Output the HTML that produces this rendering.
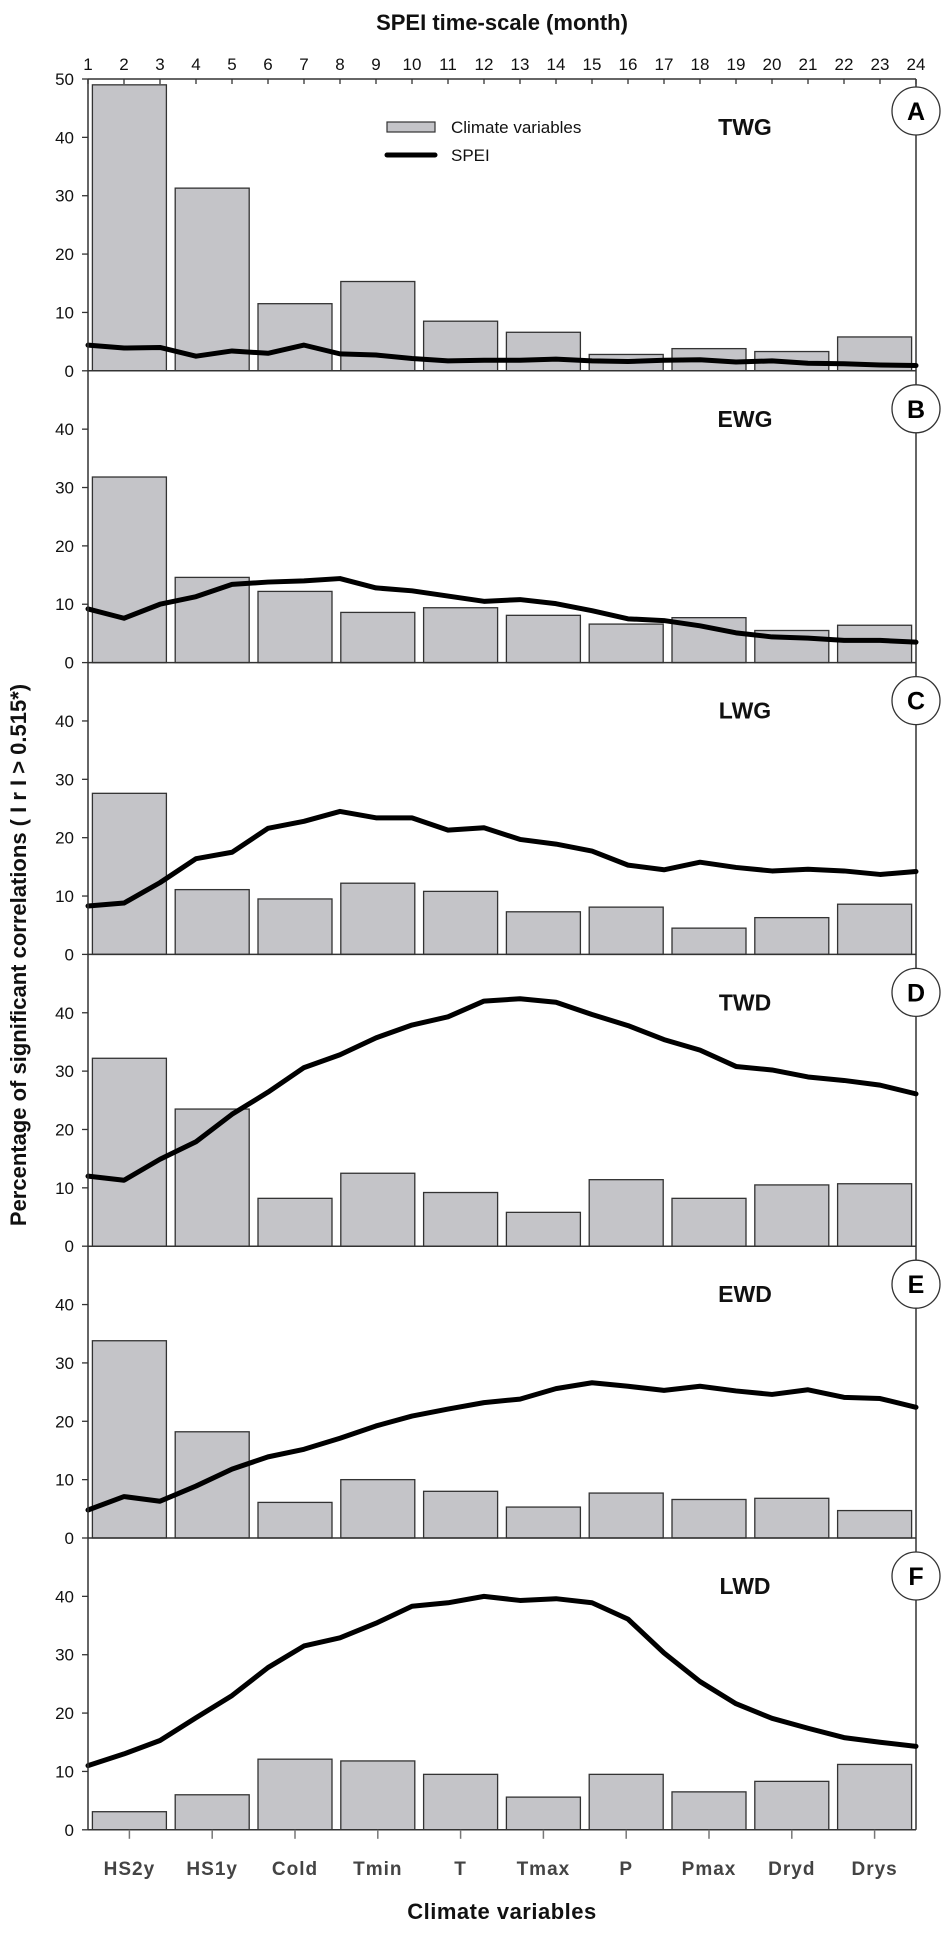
<!DOCTYPE html>
<html><head><meta charset="utf-8"><style>
body{margin:0;background:#fff}
svg text{font-family:"Liberation Sans",Arial,sans-serif}
</style></head><body>
<svg id="chart" width="950" height="1928" viewBox="0 0 950 1928" xmlns="http://www.w3.org/2000/svg"></svg>
<script>
const categories=["HS2y","HS1y","Cold","Tmin","T","Tmax","P","Pmax","Dryd","Drys"];
const panelNames=["TWG","EWG","LWG","TWD","EWD","LWD"];
const panelLetters=["A","B","C","D","E","F"];
const monthTicks=[1,2,3,4,5,6,7,8,9,10,11,12,13,14,15,16,17,18,19,20,21,22,23,24];
const yTicksA=[0,10,20,30,40,50];
const yTicksOther=[0,10,20,30,40];
const barsA=[49,31.3,11.5,15.3,8.5,6.6,2.8,3.8,3.3,5.8];
const barsB=[31.8,14.6,12.2,8.6,9.4,8.1,6.6,7.7,5.5,6.4];
const barsC=[27.6,11.1,9.5,12.2,10.8,7.3,8.1,4.5,6.3,8.6];
const barsD=[32.2,23.5,8.2,12.5,9.2,5.8,11.4,8.2,10.5,10.7];
const barsE=[33.8,18.2,6.1,10.0,8.0,5.3,7.7,6.6,6.8,4.7];
const barsF=[3.1,6.0,12.1,11.8,9.5,5.6,9.5,6.5,8.3,11.2];
const speiA=[4.4,3.9,4.0,2.5,3.4,3.0,4.4,2.9,2.7,2.1,1.7,1.8,1.8,2.0,1.7,1.6,1.8,1.9,1.5,1.7,1.3,1.2,1.0,0.9];
const speiB=[9.2,7.6,10.0,11.3,13.4,13.8,14.0,14.4,12.8,12.3,11.4,10.5,10.8,10.1,8.9,7.5,7.2,6.3,5.1,4.4,4.2,3.8,3.8,3.5];
const speiC=[8.3,8.8,12.3,16.4,17.5,21.6,22.8,24.5,23.4,23.4,21.3,21.7,19.7,18.9,17.7,15.3,14.5,15.8,14.9,14.3,14.6,14.3,13.7,14.2];
const speiD=[12.0,11.3,14.9,17.9,22.6,26.4,30.6,32.8,35.7,37.9,39.3,42.0,42.4,41.8,39.7,37.8,35.4,33.6,30.8,30.2,29.0,28.4,27.6,26.1];
const speiE=[4.8,7.1,6.3,8.9,11.8,13.9,15.2,17.1,19.2,20.9,22.1,23.2,23.8,25.6,26.6,26.0,25.3,26.0,25.2,24.6,25.4,24.1,23.9,22.4];
const speiF=[11.0,13.0,15.3,19.2,23.0,27.8,31.5,32.9,35.4,38.3,38.9,40.0,39.3,39.6,38.9,36.1,30.3,25.4,21.6,19.1,17.4,15.8,15.0,14.3];
const barSets=[barsA,barsB,barsC,barsD,barsE,barsF];
const speiSets=[speiA,speiB,speiC,speiD,speiE,speiF];

const svg=document.getElementById('chart');
const NS='http://www.w3.org/2000/svg';
const L=88,R=916,TOP=79,PH=291.8,YMAX=50;
function mk(tag,attrs,parent){const e=document.createElementNS(NS,tag);for(const k in attrs)e.setAttribute(k,attrs[k]);(parent||svg).appendChild(e);return e;}
const catW=(R-L)/categories.length;
function xCat(i){return L+catW*(i+0.5);}
function xMonth(m){return L+(m-1)*(R-L)/23;}
function yVal(p,v){return TOP+PH*(p+1)-v*PH/YMAX;}

let t=mk('text',{x:502,y:30,'text-anchor':'middle','font-size':22,'font-weight':'bold',fill:'#111'});


t.textContent='SPEI time-scale (month)';
mk('line',{x1:L,y1:TOP,x2:R,y2:TOP,stroke:'#333','stroke-width':1.5});
monthTicks.forEach(m=>{
  const x=xMonth(m);
  mk('line',{x1:x,y1:TOP,x2:x,y2:TOP+5,stroke:'#333','stroke-width':1.3});
  const lb=mk('text',{x:x,y:70,'text-anchor':'middle','font-size':17,fill:'#111'});
  
  
  lb.textContent=m;
});

for(let p=0;p<6;p++){
  const g=mk('g',{});
  
  
  const bars=barSets[p],sp=speiSets[p];
  bars.forEach((v,i)=>{
    const y=yVal(p,v),y0=yVal(p,0);
    const r=mk('rect',{x:xCat(i)-37,y:y,width:74,height:y0-y,fill:'#c4c4c8',stroke:'#333','stroke-width':1.3},g);
    
    
  });
  const pts=sp.map((v,i)=>xMonth(monthTicks[i])+','+yVal(p,v)).join(' ');
  const pl=mk('polyline',{points:pts,fill:'none',stroke:'#000','stroke-width':5,'stroke-linejoin':'round','stroke-linecap':'round'},g);
  
  
  mk('line',{x1:L,y1:yVal(p,0),x2:R,y2:yVal(p,0),stroke:'#333','stroke-width':1.5},g);
  const ticks=p===0?yTicksA:yTicksOther;
  ticks.forEach(v=>{
    const y=yVal(p,v);
    mk('line',{x1:L-6,y1:y,x2:L,y2:y,stroke:'#333','stroke-width':1.3},g);
    const lb=mk('text',{x:74,y:y+6,'text-anchor':'end','font-size':17,fill:'#111'},g);
    
    
    lb.textContent=v;
  });
  const nm=mk('text',{x:745,y:TOP+PH*p+56,'text-anchor':'middle','font-size':23,'font-weight':'bold',fill:'#111'},g);
  
  
  nm.textContent=panelNames[p];
  const cy=TOP+PH*p+(p===0?32:38);
  const c=mk('ellipse',{cx:R,cy:cy,rx:24,ry:24,fill:'#fff',stroke:'#333','stroke-width':1.3},g);
  
  
  const lt=mk('text',{x:R,y:cy+9,'text-anchor':'middle','font-size':25,'font-weight':'bold',fill:'#000'},g);
  
  
  lt.textContent=panelLetters[p];
}
mk('line',{x1:L,y1:TOP,x2:L,y2:yVal(5,0),stroke:'#333','stroke-width':1.5});
const rax=mk('line',{x1:R,y1:TOP,x2:R,y2:yVal(5,0),stroke:'#333','stroke-width':1.5});
svg.insertBefore(rax,svg.firstChild);
categories.forEach((c,i)=>{
  const x=xCat(i),y0=yVal(5,0);
  mk('line',{x1:x,y1:y0,x2:x,y2:y0+9,stroke:'#777','stroke-width':1.5});
  const lb=mk('text',{x:x,y:1875,'text-anchor':'middle','font-size':19,'font-weight':'bold',fill:'#444','letter-spacing':'1'});
  
  
  lb.textContent=c;
});
t=mk('text',{x:502,y:1919,'text-anchor':'middle','font-size':22,'font-weight':'bold',fill:'#111','letter-spacing':'0.5'});


t.textContent='Climate variables';
t=mk('text',{x:0,y:0,'text-anchor':'middle','font-size':22,'font-weight':'bold',fill:'#111',transform:'translate(26,955) rotate(-90)'});


t.textContent='Percentage of significant correlations ( I r I > 0.515*)';
const lg=mk('g',{});


mk('rect',{x:387,y:122,width:48,height:10,fill:'#c4c4c8',stroke:'#333','stroke-width':1.2},lg);
let lt=mk('text',{x:451,y:133,'font-size':17,fill:'#111'},lg);


lt.textContent='Climate variables';
mk('line',{x1:387,y1:155,x2:435,y2:155,stroke:'#000','stroke-width':5,'stroke-linecap':'round'},lg);
lt=mk('text',{x:451,y:161,'font-size':17,fill:'#111'},lg);


lt.textContent='SPEI';
</script>
</body></html>
